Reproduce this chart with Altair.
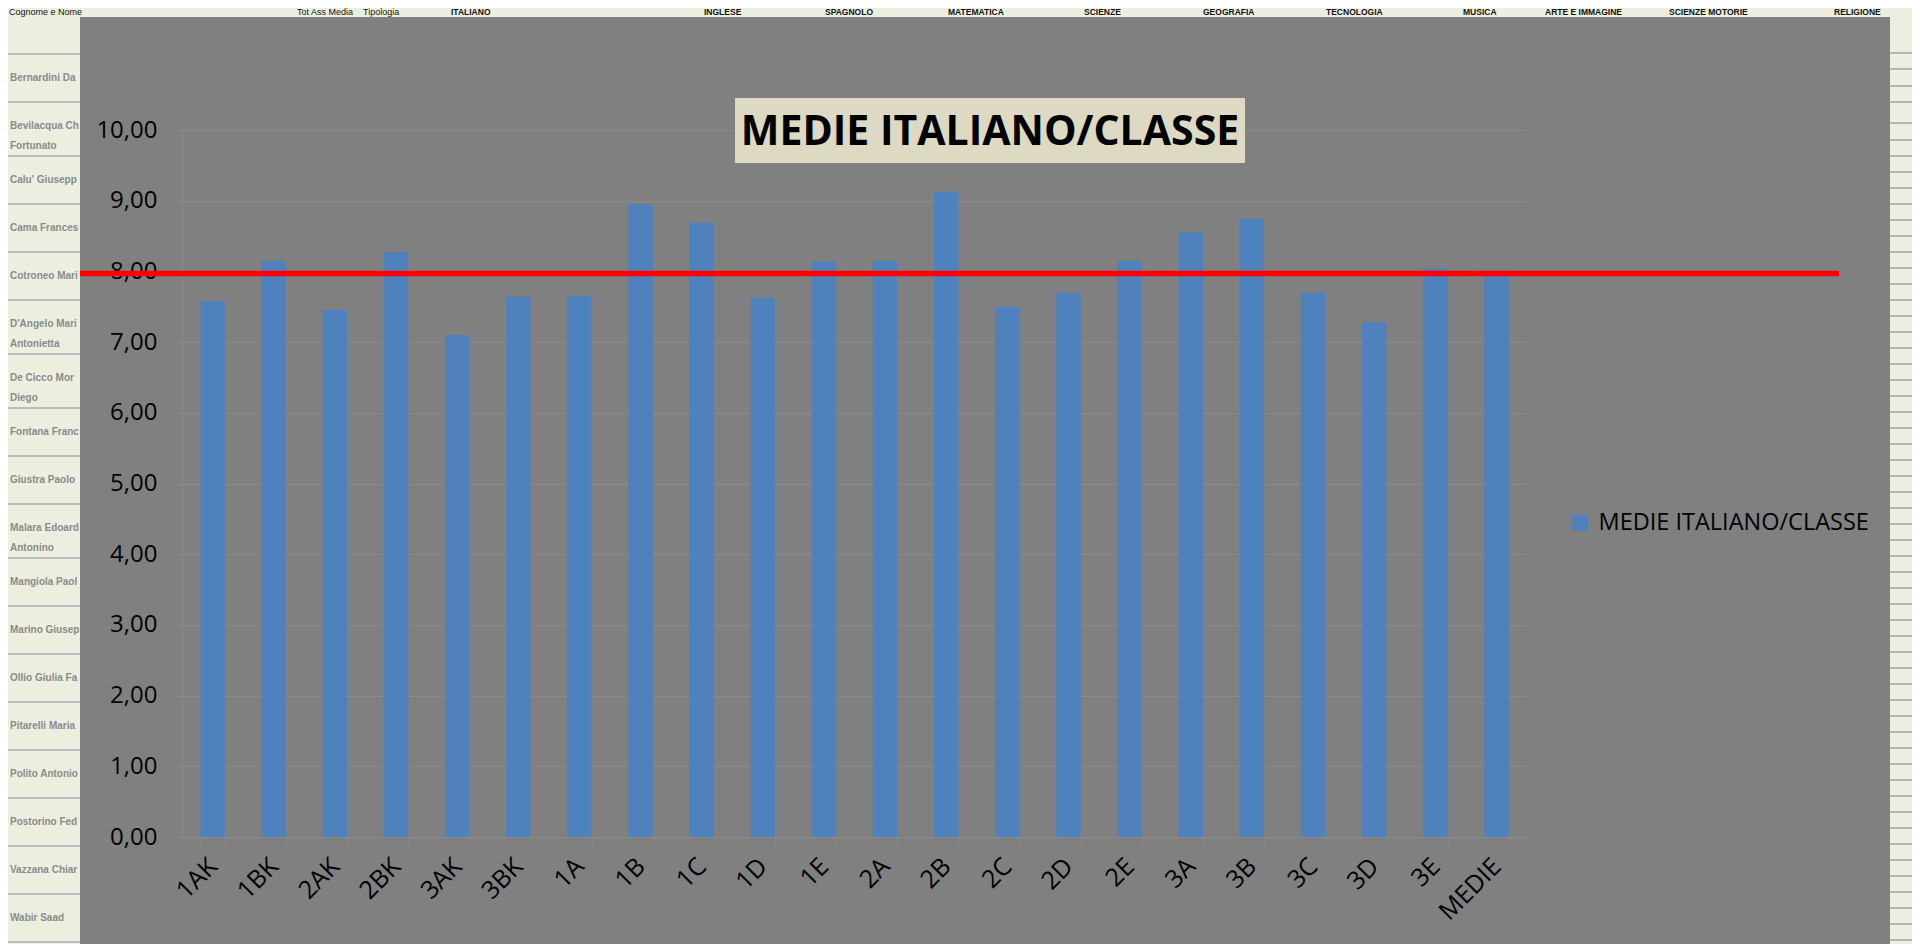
import altair as alt
import pandas as pd

# ---------------- data ----------------
CLASSI = ["1AK", "1BK", "2AK", "2BK", "3AK", "3BK", "1A", "1B", "1C", "1D", "1E",
          "2A", "2B", "2C", "2D", "2E", "3A", "3B", "3C", "3D", "3E", "MEDIE"]
MEDIE = [7.58, 8.15, 7.46, 8.27, 7.10, 7.64, 7.66, 8.95, 8.69, 7.63, 8.14,
         8.15, 9.13, 7.50, 7.70, 8.15, 8.55, 8.75, 7.70, 7.28, 8.04, 8.01]
SERIE = "MEDIE ITALIANO/CLASSE"
TITOLO = "MEDIE ITALIANO/CLASSE"
RIFERIMENTO = [7.97]
Y_TICKS = [0, 1, 2, 3, 4, 5, 6, 7, 8, 9, 10]

# spreadsheet text behind the chart
NOMI = ["Bernardini Dami", "Bevilacqua Chri\nFortunato", "Calu' Giuseppe", "Cama Francesco",
        "Cotroneo Maria", "D'Angelo Maria\nAntonietta", "De Cicco Morga\nDiego", "Fontana France",
        "Giustra Paolo", "Malara Edoardo\nAntonino", "Mangiola Paola", "Marino Giusepp",
        "Ollio Giulia Fati", "Pitarelli Maria A", "Polito Antonio", "Postorino Feder",
        "Vazzana Chiara", "Wabir Saad"]
INTESTAZIONI = ["Cognome e Nome", "Tot Ass Media", "Tipologia", "ITALIANO", "INGLESE", "SPAGNOLO",
                "MATEMATICA", "SCIENZE", "GEOGRAFIA", "TECNOLOGIA", "MUSICA", "ARTE E IMMAGINE",
                "SCIENZE MOTORIE", "RELIGIONE"]

# ---------------- layout (pixels, page coords) ----------------
OX, OY = 182, 130                 # plot origin on the page
PW, PH = 1345, 707                # plot size
HEAD_X = [9, 297, 363, 451, 704, 825, 948, 1084, 1203, 1326, 1463, 1545, 1669, 1834]
HEAD_BOLD = [False, False, False] + [True] * 11
BEIGE = "#ECEFDF"
GRAY = "#808080"
GRID = "#8b8b8b"
FONT = "Open Sans"

def rx(px):
    return px - OX

def ry(py):
    return py - OY

one = pd.DataFrame({"k": [0]})
layers = []

# beige spreadsheet strips around the chart object
for x0, x1, y0, y1 in [(0, 80, 0, 952), (0, 1920, 0, 17), (1890, 1920, 0, 952)]:
    layers.append(alt.Chart(one).mark_rect(color=BEIGE).encode(
        x=alt.value(rx(x0)), x2=alt.value(rx(x1)), y=alt.value(ry(y0)), y2=alt.value(ry(y1))))

# names column rows
row_tops = []
t = 54
for n in NOMI:
    row_tops.append(t)
    t += 54 if "\n" in n else 48
row_tops.append(t)
for yy in row_tops:
    layers.append(alt.Chart(one).mark_rule(color="#bcbcbc", strokeWidth=2).encode(
        x=alt.value(rx(0)), x2=alt.value(rx(80)), y=alt.value(ry(yy))))
for n, top in zip(NOMI, row_tops):
    layers.append(alt.Chart(one).mark_text(
        text=n, lineBreak="\n", lineHeight=20, align="left", baseline="middle",
        font="Liberation Sans", fontSize=10, fontWeight="bold", color="#8a8a8a",
        limit=70, ellipsis="\u200b").encode(x=alt.value(rx(10)), y=alt.value(ry(top + 24))))

# right strip row lines
right_lines = [53, 69, 86, 102, 123, 140, 156, 172, 188, 204, 220, 236, 252, 268, 284, 300]
yy = 316
while yy < 946:
    right_lines.append(yy)
    yy += 16
for yy in right_lines:
    layers.append(alt.Chart(one).mark_rule(color="#b4b4b4", strokeWidth=2).encode(
        x=alt.value(rx(1890)), x2=alt.value(rx(1920)), y=alt.value(ry(yy))))

# header row
for h, hx, b in zip(INTESTAZIONI, HEAD_X, HEAD_BOLD):
    layers.append(alt.Chart(one).mark_text(
        text=h, align="left", baseline="middle", font="Liberation Sans",
        fontSize=8.5 if b else 9, fontWeight="bold" if b else "normal", color="#111111").encode(
        x=alt.value(rx(hx)), y=alt.value(ry(12))))

# ---------------- chart ----------------
df = pd.DataFrame({"classe": CLASSI, "media": MEDIE, "serie": [SERIE] * len(CLASSI)})

bars = alt.Chart(df).mark_bar().encode(
    x=alt.X("classe:N", sort=CLASSI, title=None,
            scale=alt.Scale(paddingInner=0.6, paddingOuter=0.3),
            axis=alt.Axis(labelAngle=-45, labelAlign="right", labelBaseline="middle",
                          labelFont=FONT, labelFontSize=25, labelColor="black",
                          labelPadding=18, labelOverlap=False, labelLimit=300,
                          tickBand="extent", tickSize=7, tickColor=GRID, ticks=True,
                          domainColor=GRID, domainWidth=1, grid=False)),
    y=alt.Y("media:Q", title=None,
            scale=alt.Scale(domain=[0, 10], nice=False, zero=True),
            axis=alt.Axis(values=Y_TICKS,
                          labelExpr="replace(format(datum.value, '.2f'), '.', ',')",
                          labelFont=FONT, labelFontSize=24, labelColor="black",
                          labelPadding=18, tickSize=7, tickColor=GRID,
                          domainColor=GRID, domainWidth=1,
                          grid=True, gridColor=GRID, gridWidth=1)),
    color=alt.Color("serie:N", scale=alt.Scale(range=["#4F81BD"]),
                    legend=alt.Legend(title=None, orient="none", legendX=1386, legendY=381,
                                      symbolType="square", symbolSize=256, symbolStrokeWidth=0,
                                      labelFont=FONT, labelFontSize=23.5, labelColor="black",
                                      labelOffset=7, labelLimit=500, padding=0)),
)

rule = alt.Chart(pd.DataFrame({"rif": RIFERIMENTO})).mark_rule(
    color="#FF0000", strokeWidth=5.5).encode(
    y=alt.Y("rif:Q"), x=alt.value(rx(80)), x2=alt.value(rx(1839)))

title_box = alt.Chart(one).mark_rect(color="#DDD9C3").encode(
    x=alt.value(rx(735)), x2=alt.value(rx(1245)), y=alt.value(ry(98)), y2=alt.value(ry(163)))
title_text = alt.Chart(one).mark_text(
    text=TITOLO, font=FONT, fontSize=41, fontWeight="bold", color="black",
    align="center", baseline="middle").encode(x=alt.value(rx(990)), y=alt.value(ry(133)))

chart = alt.layer(*layers, bars, title_box, title_text, rule).properties(
    width=PW, height=PH,
    padding={"left": OX - 8, "top": OY - 8, "right": 1904 - (OX - 8) - PW,
             "bottom": 936 - (OY - 8) - PH},
    autosize=alt.AutoSizeParams(type="none"),
).configure(background=GRAY).configure_view(stroke=None)

chart.save("out.html", embed_options={"renderer": "svg", "actions": False})
